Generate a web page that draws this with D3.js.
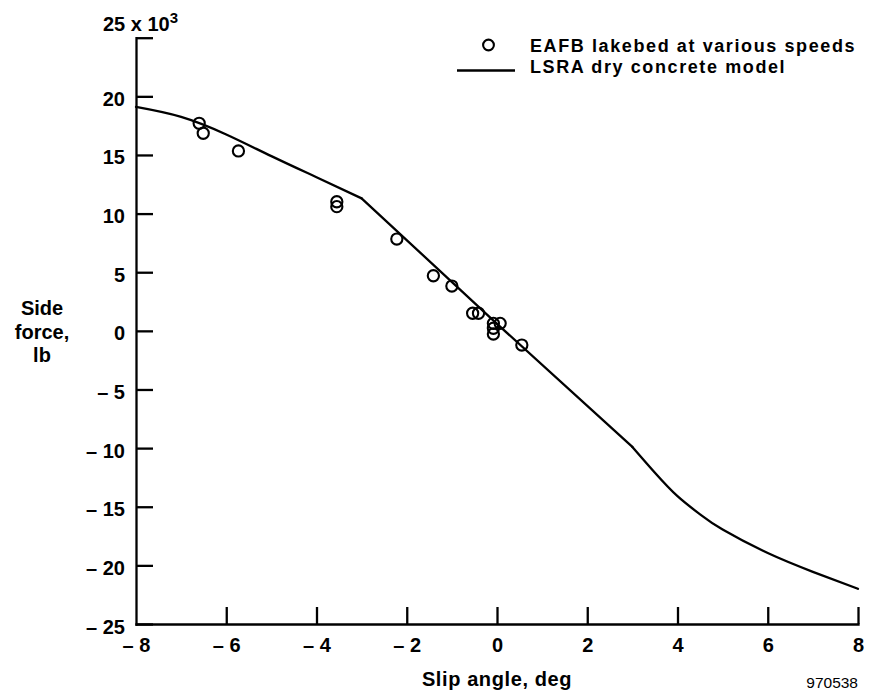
<!DOCTYPE html>
<html>
<head>
<meta charset="utf-8">
<script src="https://cdn.jsdelivr.net/npm/d3@7"></script>
<style>
  html, body { margin: 0; padding: 0; background: #fff; }
  svg { display: block; }
  text { font-family: "Liberation Sans", Arial, Helvetica, sans-serif; fill: #000; }
</style>
</head>
<body>
<svg id="chart" width="869" height="696"></svg>
<script>
// ---- data (side force in thousands of lb) ----
const xTicks = [-8, -6, -4, -2, 0, 2, 4, 6, 8];
const yTicks = [-25, -20, -15, -10, -5, 0, 5, 10, 15, 20, 25];

const dataSlip  = [-6.60, -6.51, -5.73, -3.55, -3.55, -2.22, -1.41, -1.00, -0.54, -0.41, -0.08, 0.07, -0.08, -0.08, 0.55];
const dataForce = [17.70, 16.85, 15.34, 11.01, 10.59, 7.83, 4.70, 3.82, 1.50, 1.50, 0.64, 0.64, 0.22, -0.27, -1.21];

const modelSlip  = [-8, -7, -6, -5, -4, -3, 0, 3, 3.5, 4, 4.5, 5, 6, 7, 8];
const modelForce = [19.1, 18.25, 16.75, 14.9, 13.1, 11.3, 0.6, -9.9, -12.1, -14.1, -15.65, -16.95, -18.95, -20.55, -22.0];
const modelBreaks = [[0, 5], [5, 7], [7, 14]]; // pieces joined at the model's corners

const legendLabels = ["EAFB lakebed at various speeds", "LSRA dry concrete model"];

// ---- layout ----
const svg = d3.select("#chart");
const x = d3.scaleLinear().domain([-8, 8]).range([136, 858]);
const y = d3.scaleLinear().domain([-25, 25]).range([624, 37.7]);
const fmt = d => d < 0 ? "\u2013 " + Math.abs(d) : String(d);
const SW = 2.3;

// x axis
const gx = svg.append("g").attr("transform", `translate(0,${y(-25)})`)
  .call(d3.axisBottom(x).tickValues(xTicks).tickSizeInner(-17).tickSizeOuter(0).tickPadding(14).tickFormat(fmt));
// y axis
const gy = svg.append("g").attr("transform", `translate(${x(-8)},0)`)
  .call(d3.axisLeft(y).tickValues(yTicks).tickSizeInner(-17).tickSizeOuter(0).tickPadding(11)
    .tickFormat(d => d === 25 ? "" : fmt(d)));

[gx, gy].forEach(g => {
  g.selectAll("path.domain").attr("stroke", "#000").attr("stroke-width", SW).attr("stroke-linecap", "square");
  g.selectAll(".tick line").attr("stroke", "#000").attr("stroke-width", SW);
  g.selectAll(".tick text").style("font-size", "20px").style("font-weight", "bold")
    .attr("fill", "#000");
});
gy.selectAll(".tick text").attr("dy", "0.45em");
gx.selectAll(".tick").filter(d => d === -8).select("line").remove();

// y-axis scale title "25 x 10^3"
const tt = svg.append("text").attr("x", 103).attr("y", 30.7)
  .style("font-size", "20px").style("font-weight", "bold");
tt.append("tspan").text("25 x 10");
tt.append("tspan").attr("dy", -8).style("font-size", "15px").text("3");

// axis titles
svg.append("text").attr("x", 497).attr("y", 686).attr("text-anchor", "middle")
  .style("font-size", "20px").style("font-weight", "bold").style("letter-spacing", "0.6px").text("Slip angle, deg");
const yl = svg.append("text").attr("text-anchor", "middle")
  .style("font-size", "20px").style("font-weight", "bold");
["Side", "force,", "lb"].forEach((t, i) => {
  yl.append("tspan").attr("x", 42).attr("y", 315 + i * 23.5).text(t);
});

// model line
const line = d3.line().x(d => x(d[0])).y(d => y(d[1])).curve(d3.curveNatural);
const modelPts = modelSlip.map((s, i) => [s, modelForce[i]]);
modelBreaks.forEach(([a, b]) => {
  svg.append("path").datum(modelPts.slice(a, b + 1))
    .attr("d", line).attr("fill", "none").attr("stroke", "#000")
    .attr("stroke-width", SW).attr("stroke-linecap", "round").attr("stroke-linejoin", "round");
});

// data points
svg.append("g").selectAll("circle").data(dataSlip.map((s, i) => [s, dataForce[i]]))
  .join("circle")
  .attr("cx", d => x(d[0])).attr("cy", d => y(d[1])).attr("r", 5.6)
  .attr("fill", "none").attr("stroke", "#000").attr("stroke-width", 2.1);

// legend
svg.append("circle").attr("cx", 488.5).attr("cy", 45).attr("r", 5.4)
  .attr("fill", "none").attr("stroke", "#000").attr("stroke-width", 2.1);
svg.append("line").attr("x1", 457).attr("x2", 515).attr("y1", 70.5).attr("y2", 70.5)
  .attr("stroke", "#000").attr("stroke-width", SW);
legendLabels.forEach((t, i) => {
  svg.append("text").attr("x", 530).attr("y", 51.7 + i * 21)
    .style("font-size", "18px").style("font-weight", "bold").style("letter-spacing", "1.6px").text(t);
});

// figure number
svg.append("text").attr("x", 858).attr("y", 688).attr("text-anchor", "end")
  .style("font-size", "15.5px").text("970538");
</script>
</body>
</html>
